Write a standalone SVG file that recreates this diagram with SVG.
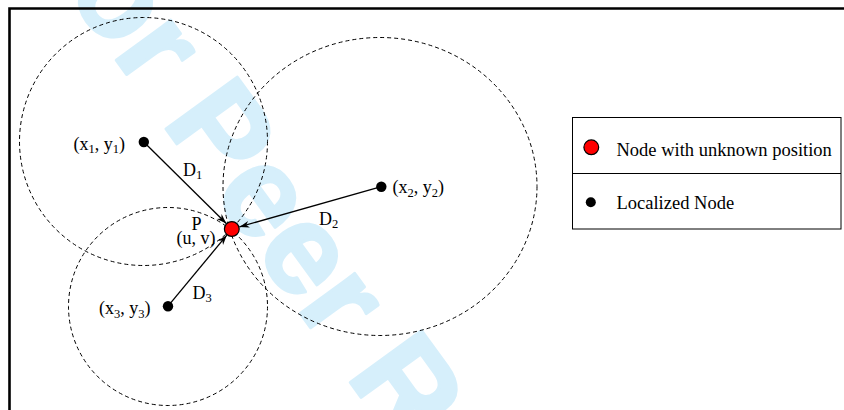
<svg xmlns="http://www.w3.org/2000/svg" width="844" height="410" viewBox="0 0 844 410">
<style>
.t{font-family:"Liberation Serif","Times New Roman",serif;font-size:18px;fill:#000}
.lg{font-family:"Liberation Serif","Times New Roman",serif;font-size:18.5px;fill:#000}
.s{font-size:12.5px}
.range{fill:none;stroke:#000;stroke-width:1;stroke-dasharray:4 3}
.edge{fill:none;stroke:#000;stroke-width:1.3}
.dot{fill:#000}
.unk{fill:#ff0000;stroke:#000;stroke-width:1.2}
</style>
<defs>
<marker id="ah" markerUnits="userSpaceOnUse" markerWidth="12" markerHeight="9" refX="10" refY="4" orient="auto">
<path d="M0,0.6 L10,4 L0,7.4 L3,4 Z" fill="#000"/>
</marker>
</defs>
<rect width="844" height="410" fill="#fff"/>
<text transform="translate(19,-73.5) rotate(54)" font-family="'Liberation Sans',Arial,sans-serif" font-weight="bold" font-size="128" fill="#d6effb" stroke="#d6effb" stroke-width="3" stroke-linejoin="round">For Peer Review</text>
<path d="M9.5,410 V8.5 H844" fill="none" stroke="#000" stroke-width="2.6"/>
<g id="ranges">
<ellipse class="range" cx="143.5" cy="141.5" rx="124" ry="124"/>
<ellipse class="range" cx="380" cy="186.5" rx="157" ry="149"/>
<ellipse class="range" cx="168" cy="306.5" rx="99.5" ry="99"/>
</g>
<g id="connectors">
<line class="edge" x1="143.8" y1="142" x2="226.3" y2="223.5" marker-end="url(#ah)"/>
<line class="edge" x1="381.3" y1="186.7" x2="239.4" y2="226.9" marker-end="url(#ah)"/>
<line class="edge" x1="168" y1="306.2" x2="226.8" y2="235.2" marker-end="url(#ah)"/>
</g>
<g id="node1">
<circle class="dot" cx="143.8" cy="142" r="5.2"/>
<text class="t" x="125" y="149.5" text-anchor="end">(x<tspan class="s" dy="3.5">1</tspan><tspan dy="-3.5">, y</tspan><tspan class="s" dy="3.5">1</tspan><tspan dy="-3.5">)</tspan></text>
</g>
<g id="node2">
<circle class="dot" cx="381.3" cy="186.7" r="5.2"/>
<text class="t" x="392.5" y="193">(x<tspan class="s" dy="3.5">2</tspan><tspan dy="-3.5">, y</tspan><tspan class="s" dy="3.5">2</tspan><tspan dy="-3.5">)</tspan></text>
</g>
<g id="node3">
<circle class="dot" cx="168" cy="306.2" r="5.2"/>
<text class="t" x="150.5" y="314" text-anchor="end">(x<tspan class="s" dy="3.5">3</tspan><tspan dy="-3.5">, y</tspan><tspan class="s" dy="3.5">3</tspan><tspan dy="-3.5">)</tspan></text>
</g>
<g id="nodeP">
<circle class="unk" cx="231.8" cy="229" r="7.4"/>
<text class="t" x="191.5" y="229.5">P</text>
<text class="t" x="176.5" y="243.5">(u, v)</text>
</g>
<g id="labels">
<text class="t" x="183" y="176">D<tspan class="s" dy="3">1</tspan></text>
<text class="t" x="319" y="225">D<tspan class="s" dy="3">2</tspan></text>
<text class="t" x="192.5" y="298.6">D<tspan class="s" dy="3">3</tspan></text>
</g>
<g id="legend">
<rect x="572.5" y="117.5" width="268.5" height="111.5" fill="none" stroke="#000" stroke-width="1"/>
<line x1="572.5" y1="173.5" x2="841" y2="173.5" stroke="#000" stroke-width="1"/>
<circle class="unk" cx="591.3" cy="147.3" r="7.4"/>
<text class="lg" x="616.5" y="155.6">Node with unknown position</text>
<circle class="dot" cx="590.8" cy="202.3" r="5"/>
<text class="lg" x="616.5" y="209">Localized Node</text>
</g>
</svg>
